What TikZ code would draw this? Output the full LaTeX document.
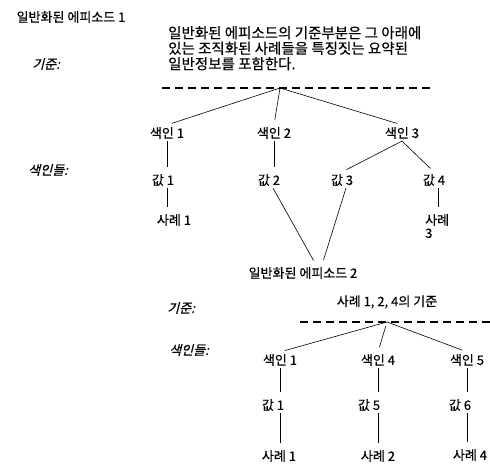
\documentclass[tikz,border=0pt]{standalone}
\usepackage{fontspec}
\setmainfont[FakeBold=0.4]{Noto Sans CJK KR}
\newfontfamily\krslant[FakeSlant=0.25,FakeBold=0.4]{Noto Sans CJK KR}
\usetikzlibrary{positioning,calc}

\begin{document}
\begin{tikzpicture}[x=1pt,y=-1pt,
  every node/.style={font=\fontsize{13}{16}\selectfont,inner sep=2pt},
  lbl/.style={font=\fontsize{13}{16}\selectfont\krslant},
  link/.style={line width=0.6pt,shorten >=5pt},
  cut/.style={line width=1.4pt,dash pattern=on 8pt off 5pt}]
\useasboundingbox (0,0) rectangle (490,465);

\node (ep1) at (71,17) {일반화된 에피소드 1};
\node[anchor=north west,align=left,font=\fontsize{14.5}{15.5}\selectfont] (desc) at (166,24) {일반화된 에피소드의 기준부분은 그 아래에\\있는 조직화된 사례들을 특징짓는 요약된\\일반정보를 포함한다.};
\node[lbl] (crit1) at (46,64) {기준:};
\coordinate (cl1) at (162,88);
\coordinate (cr1) at (432,88);
\coordinate (j1) at (280,88);
\draw[cut] (cl1) -- (cr1);

\node (ia1) at (167,133) {색인 1};
\node (ia2) at (274,133) {색인 2};
\node (ia3) at (402,133) {색인 3};
\node[lbl] (idx1) at (48,170) {색인들:};
\node (va1) at (163,180) {값 1};
\node (va2) at (269,180) {값 2};
\node (va3) at (342,180) {값 3};
\node (va4) at (434,180) {값 4};
\node (ca1) at (174,220) {사례 1};
\node[anchor=north west,align=left,font=\fontsize{13}{13}\selectfont] (ca3) at (423,212) {사례\\3};

\draw[link] (j1) -- (ia1.north);
\draw[link] (j1) -- (ia2.north);
\draw[link] (j1) -- (ia3.north);
\draw[link] (ia1.south) -- (ia1.south |- va1.north);
\draw[link] (ia2.south) -- (ia2.south |- va2.north);
\draw[link] (ia3.south) -- (va3.north);
\draw[link] (ia3.south) -- (va4.north);
\draw[link] (va1.south -| ia1) -- (ca1.north -| ia1);
\draw[link] ([xshift=4pt]va4.south) -- ([xshift=4pt]va4.south |- ca3.north);

\node (ep2) at (303,273) {일반화된 에피소드 2};
\draw[link] ([xshift=4pt]va2.south) -- ([xshift=13pt]ep2.north);
\draw[link] ([xshift=4pt]va3.south) -- ([xshift=19pt]ep2.north);

\node[lbl] (crit2) at (181,308) {기준:};
\node (sum2) at (387,302) {사례 1, 2, 4의 기준};
\coordinate (cl2) at (300,322);
\coordinate (cr2) at (490,322);
\coordinate (j2) at (387,322);
\draw[cut] (cl2) -- (cr2);

\node[lbl] (idx2) at (189,350) {색인들:};
\node (ib1) at (280,360) {색인 1};
\node (ib4) at (378,360) {색인 4};
\node (ib5) at (467,360) {색인 5};
\node (vb1) at (273,405) {값 1};
\node (vb5) at (369,405) {값 5};
\node (vb6) at (460,405) {값 6};
\node (cb1) at (279,456) {사례 1};
\node (cb2) at (378,456) {사례 2};
\node (cb4) at (470,455) {사례 4};

\draw[link] (j2) -- (ib1.north);
\draw[link,shorten <=4pt] (j2) -- (ib4.north);
\draw[link] (j2) -- (ib5.north);
\draw[link] (ib1.south) -- (ib1.south |- vb1.north);
\draw[link] (ib4.south) -- (ib4.south |- vb5.north);
\draw[link] (ib5.south) -- (ib5.south |- vb6.north);
\draw[link] (vb1.south -| ib1) -- (cb1.north -| ib1);
\draw[link] (vb5.south -| ib4) -- (cb2.north -| ib4);
\draw[link] (vb6.south -| ib5) -- (cb4.north -| ib5);
\end{tikzpicture}
\end{document}
